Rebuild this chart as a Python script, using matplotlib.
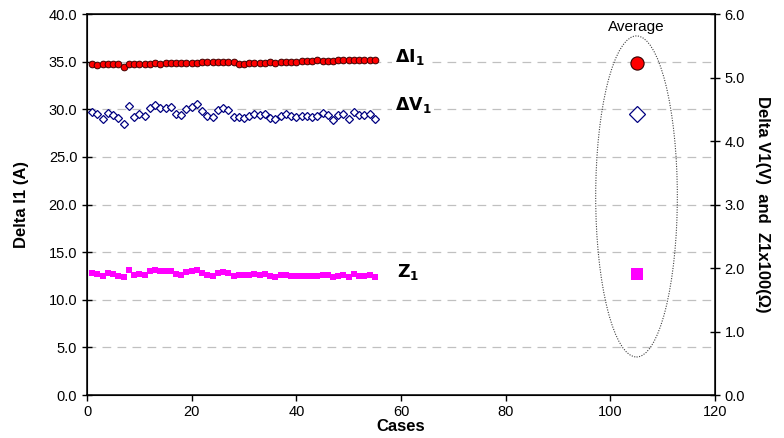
import numpy as np
import matplotlib
matplotlib.use("Agg")
import matplotlib.pyplot as plt
from matplotlib.patches import Ellipse

plt.rcParams['font.family'] = ['Liberation Sans', 'DejaVu Sans']

# Data (cases 1..55)
cases = list(range(1, 56))

delta_i1 = [34.71, 34.68, 34.71, 34.78, 34.71, 34.78, 34.43, 34.75, 34.78, 34.78,
            34.78, 34.78, 34.86, 34.78, 34.86, 34.89, 34.89, 34.89, 34.89, 34.89,
            34.89, 34.96, 34.96, 34.96, 34.96, 34.96, 34.96, 34.93, 34.75, 34.75,
            34.86, 34.89, 34.89, 34.89, 34.96, 34.89, 34.96, 35.00, 35.00, 35.00,
            35.03, 35.03, 35.07, 35.17, 35.07, 35.07, 35.07, 35.14, 35.14, 35.14,
            35.14, 35.14, 35.14, 35.14, 35.14]

delta_v1 = [29.75, 29.47, 28.94, 29.65, 29.37, 29.05, 28.45, 30.34, 29.19, 29.47,
            29.29, 30.10, 30.45, 30.10, 30.17, 30.27, 29.47, 29.40, 29.99, 30.27,
            30.52, 29.82, 29.29, 29.22, 29.92, 30.10, 29.92, 29.22, 29.19, 29.12,
            29.29, 29.47, 29.40, 29.47, 29.12, 28.94, 29.29, 29.47, 29.29, 29.19,
            29.29, 29.29, 29.19, 29.29, 29.57, 29.37, 28.87, 29.40, 29.47, 28.94,
            29.68, 29.37, 29.37, 29.47, 28.94]

z1 = [12.86, 12.75, 12.51, 12.79, 12.69, 12.53, 12.39, 13.10, 12.59, 12.71,
      12.63, 12.98, 13.10, 12.98, 12.98, 13.01, 12.67, 12.64, 12.89, 13.01,
      13.12, 12.79, 12.57, 12.54, 12.84, 12.91, 12.84, 12.55, 12.60, 12.57,
      12.60, 12.67, 12.64, 12.67, 12.49, 12.44, 12.57, 12.63, 12.55, 12.51,
      12.54, 12.54, 12.49, 12.49, 12.65, 12.56, 12.35, 12.55, 12.58, 12.35,
      12.67, 12.54, 12.54, 12.58, 12.35]

avg_x = 105
avg_i1 = 34.85
avg_v1 = 29.5
avg_z1 = 12.7

fig = plt.figure(figsize=(7.84, 4.38), dpi=100)
ax = fig.add_axes([0.111, 0.098, 0.801, 0.870])

ax.set_xlim(0, 120)
ax.set_ylim(0, 40)
ax.set_xticks(np.arange(0, 121, 20))
ax.set_yticks(np.arange(0, 40.1, 5))
ax.set_yticklabels([f"{v:.1f}" for v in np.arange(0, 40.1, 5)])

for y in np.arange(5, 40, 5):
    ax.axhline(y, color='#c0c0c0', lw=0.9, ls=(0, (7, 5)), zorder=0)

ax.plot(cases, delta_i1, 'o', ms=4.8, mfc='#ff0000', mec='#400000', mew=0.7, zorder=3)
ax.plot(cases, delta_v1, 'D', ms=4.3, mfc='white', mec='#000080', mew=0.9, zorder=3)
ax.plot(cases, z1, 's', ms=4.4, mfc='#ff00ff', mec='#ff00ff', mew=0, zorder=3)

ax.plot([avg_x], [avg_i1], 'o', ms=9.5, mfc='#ff0000', mec='#300000', mew=0.8, zorder=3)
ax.plot([avg_x], [avg_v1], 'D', ms=8, mfc='white', mec='#000080', mew=0.9, zorder=3)
ax.plot([avg_x], [avg_z1], 's', ms=9, mfc='#ff00ff', mec='#ff00ff', mew=0, zorder=3)

ell = Ellipse((avg_x, 20.85), width=15.6, height=33.7, fill=False,
              ls=(0, (1, 1.3)), lw=0.8, ec='#404040', zorder=2)
ax.add_patch(ell)

ax.text(avg_x, 37.9, "Average", ha='center', va='bottom', fontsize=11)

box = dict(facecolor='white', edgecolor='none', pad=2)
label_style = dict(fontsize=12.5, va='center', bbox=box)
ax.text(58.8, 35.5, r'$\mathbf{\Delta I}_{\mathbf{1}}$', **label_style)
ax.text(58.8, 30.5, r'$\mathbf{\Delta V}_{\mathbf{1}}$', **label_style)
ax.text(59.2, 12.9, r'$\mathbf{Z}_{\mathbf{1}}$', **label_style)

ax.tick_params(axis='y', direction='inout', length=7, width=1, labelsize=10.5)
ax.tick_params(axis='x', direction='out', length=4, width=1, labelsize=10.5)
for s in ax.spines.values():
    s.set_linewidth(1.1)

ax.set_xlabel("Cases", fontsize=12, fontweight='bold', labelpad=0)
ax.set_ylabel("Delta I1 (A)", fontsize=12, fontweight='bold', labelpad=14)

ax2 = ax.twinx()
ax2.set_ylim(0, 6)
ax2.set_yticks(np.arange(0, 6.1, 1))
ax2.set_yticklabels([f"{v:.1f}" for v in np.arange(0, 6.1, 1)])
ax2.tick_params(axis='y', direction='inout', length=7, width=1, labelsize=10.5)
ax2.set_ylabel("Delta V1(V)  and  Z1x100(\u03a9)", fontsize=12, fontweight='bold',
               rotation=-90, labelpad=18)

fig.savefig("out.png", dpi=100)
